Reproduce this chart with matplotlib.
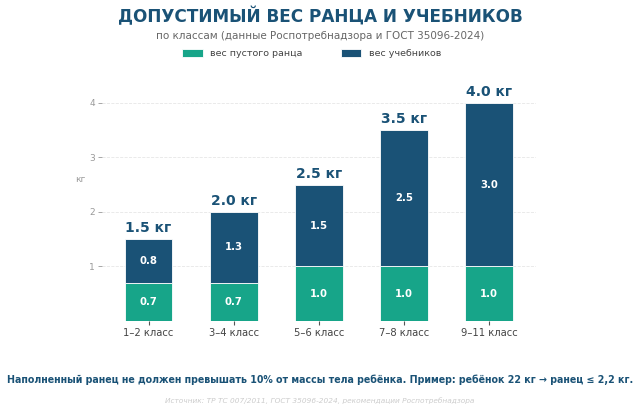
import matplotlib.pyplot as plt
import numpy as np

grades = ["1–2 класс", "3–4 класс", "5–6 класс", "7–8 класс", "9–11 класс"]
bag_empty = [0.7, 0.7, 1.0, 1.0, 1.0]
books = [0.8, 1.3, 1.5, 2.5, 3.0]

teal = "#17a589"
navy = "#1a5276"

fig = plt.figure(figsize=(6.4, 4.13), dpi=100)
ax = fig.add_axes([0.159, 0.2228, 0.6785, 0.5806])

x = np.arange(len(grades))
w = 0.56
b1 = ax.bar(x, bag_empty, w, color=teal, edgecolor="white", linewidth=0.6,
            label="вес пустого ранца", zorder=3)
b2 = ax.bar(x, books, w, bottom=bag_empty, color=navy, edgecolor="white",
            linewidth=0.6, label="вес учебников", zorder=3)

for xi, a, b in zip(x, bag_empty, books):
    ax.text(xi, a / 2, f"{a:.1f}", ha="center", va="center", color="white",
            fontsize=7.3, fontweight="bold", zorder=4)
    ax.text(xi, a + b / 2, f"{b:.1f}", ha="center", va="center", color="white",
            fontsize=7.3, fontweight="bold", zorder=4)
    ax.text(xi, a + b + 0.07, f"{a + b:.1f} кг", ha="center", va="bottom",
            color=navy, fontsize=10, fontweight="bold", zorder=4)

ax.set_xlim(-0.55, 4.55)
ax.set_ylim(0, 4.4)
ax.set_xticks(x)
ax.set_xticklabels(grades, fontsize=7.2, color="#444444")
ax.set_yticks([1, 2, 3, 4])
ax.tick_params(axis="y", labelsize=6.5, colors="#999999", length=3, width=0.6, pad=2)
ax.tick_params(axis="x", length=3, width=0.8, color="#555555", pad=2)
ax.yaxis.grid(True, linestyle="--", color="#e6e6e6", linewidth=0.6, zorder=0)
for s in ax.spines.values():
    s.set_visible(False)
ax.set_ylabel("кг", rotation=0, fontsize=6.5, color="#999999")
ax.yaxis.set_label_coords(-0.05, 0.57)

fig.text(0.5, 0.96, "ДОПУСТИМЫЙ ВЕС РАНЦА И УЧЕБНИКОВ", ha="center", va="center",
         fontsize=12.2, fontweight="bold", color=navy)
fig.text(0.5, 0.913, "по классам (данные Роспотребнадзора и ГОСТ 35096-2024)",
         ha="center", va="center", fontsize=7.5, color="#666666")
fig.legend(handles=[b1, b2], loc="center", bbox_to_anchor=(0.487, 0.871), ncol=2,
           frameon=False, fontsize=6.8, handlelength=2.2, handleheight=0.9,
           columnspacing=4.0, labelcolor="#444444")

fig.text(0.5, 0.08, "Наполненный ранец не должен превышать 10% от массы тела ребёнка. "
         "Пример: ребёнок 22 кг → ранец ≤ 2,2 кг.", ha="center", va="center",
         fontsize=6.85, fontweight="bold", color=navy)
fig.text(0.5, 0.029, "Источник: ТР ТС 007/2011, ГОСТ 35096-2024, рекомендации Роспотребнадзора",
         ha="center", va="center", fontsize=5.3, style="italic", color="#cccccc")

fig.savefig("out.png", dpi=100, facecolor="white")
